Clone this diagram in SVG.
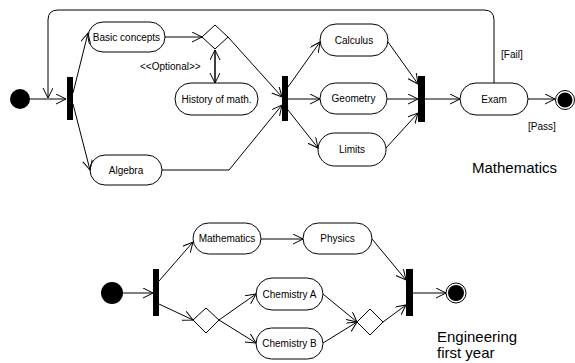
<svg xmlns="http://www.w3.org/2000/svg" width="575" height="363" viewBox="0 0 575 363">
  <defs>
    <style>
      .act { fill: #fff; stroke: #000; stroke-width: 1; }
      .bar { fill: #000; stroke: none; }
      .dec { fill: #fff; stroke: #000; stroke-width: 1; }
      .lbl { font-family: "Liberation Sans", Arial, sans-serif; font-size: 10px; fill: #000; text-anchor: middle; }
      .note { font-family: "Liberation Sans", Arial, sans-serif; font-size: 15px; fill: #000; }
      .guard { font-family: "Liberation Sans", Arial, sans-serif; font-size: 10px; fill: #000; }
      .flow { fill: none; stroke: #000; stroke-width: 1; marker-end: url(#arr); }
      .plain { fill: none; stroke: #000; stroke-width: 1; }
    </style>
    <marker id="arr" markerUnits="userSpaceOnUse" markerWidth="12" markerHeight="12" refX="10" refY="5" orient="auto">
      <path d="M0,0 L10,5 L0,10" fill="none" stroke="#000" stroke-width="1"/>
    </marker>
    <marker id="arrStart" markerUnits="userSpaceOnUse" markerWidth="12" markerHeight="12" refX="10" refY="5" orient="auto-start-reverse">
      <path d="M0,0 L10,5 L0,10" fill="none" stroke="#000" stroke-width="1"/>
    </marker>
  </defs>

  <!-- Mathematics activity -->
  <g id="m-start"><circle cx="20" cy="99" r="10" fill="#000"/></g>
  <g id="m-fork1"><rect class="bar" x="67" y="77" width="6" height="43"/></g>
  <g id="m-basic"><rect class="act" x="88" y="22" width="77" height="30" rx="15"/><text class="lbl" x="126.5" y="40.5">Basic concepts</text></g>
  <g id="m-algebra"><rect class="act" x="90" y="155" width="72" height="30" rx="15"/><text class="lbl" x="126" y="173.5">Algebra</text></g>
  <g id="m-decision"><polygon class="dec" points="202,37 215,25 228,37 215,49"/></g>
  <g id="m-history"><rect class="act" x="175" y="83" width="83" height="32" rx="16"/><text class="lbl" x="216.5" y="102.5">History of math.</text></g>
  <g id="m-fork2"><rect class="bar" x="282" y="76" width="6" height="45"/></g>
  <g id="m-calculus"><rect class="act" x="320" y="24" width="68" height="32" rx="16"/><text class="lbl" x="354" y="43.5">Calculus</text></g>
  <g id="m-geometry"><rect class="act" x="320" y="83" width="67" height="31" rx="15.5"/><text class="lbl" x="353.5" y="102">Geometry</text></g>
  <g id="m-limits"><rect class="act" x="318" y="133" width="68" height="33" rx="16.5"/><text class="lbl" x="352" y="153">Limits</text></g>
  <g id="m-join"><rect class="bar" x="418" y="76" width="7" height="46"/></g>
  <g id="m-exam"><rect class="act" x="460" y="83" width="68" height="32" rx="16"/><text class="lbl" x="494" y="102.5">Exam</text></g>
  <g id="m-end"><circle cx="565" cy="100" r="9.5" fill="#fff" stroke="#000" stroke-width="1"/><circle cx="565" cy="100" r="7.5" fill="#000"/></g>

  <!-- Engineering first year activity -->
  <g id="e-start"><circle cx="112" cy="293" r="11" fill="#000"/></g>
  <g id="e-fork"><rect class="bar" x="153" y="269" width="6" height="47"/></g>
  <g id="e-math"><rect class="act" x="193" y="223" width="68" height="31" rx="15.5"/><text class="lbl" x="227" y="242">Mathematics</text></g>
  <g id="e-physics"><rect class="act" x="303" y="223" width="69" height="31" rx="15.5"/><text class="lbl" x="337.5" y="242">Physics</text></g>
  <g id="e-dec1"><polygon class="dec" points="193,320 206,308 219,320 206,333"/></g>
  <g id="e-chemA"><rect class="act" x="256" y="278" width="67" height="32" rx="16"/><text class="lbl" x="289.5" y="297.5">Chemistry A</text></g>
  <g id="e-chemB"><rect class="act" x="256" y="328" width="67" height="31" rx="15.5"/><text class="lbl" x="289.5" y="347">Chemistry B</text></g>
  <g id="e-dec2"><polygon class="dec" points="357,322 370,309 383,322 370,335"/></g>
  <g id="e-join"><rect class="bar" x="406" y="269" width="7" height="47"/></g>
  <g id="e-end"><circle cx="456" cy="293" r="10" fill="#fff" stroke="#000" stroke-width="1"/><circle cx="456" cy="293" r="8" fill="#000"/></g>

  <!-- Connectors -->
  <g id="connectors">
    <line class="flow" x1="30" y1="99" x2="66" y2="99"/>
    <path class="flow" d="M494,83 V20 Q494,10 484,10 H58 Q48,10 48,20 V98"/>
    <line class="flow" x1="73" y1="93" x2="88" y2="33"/>
    <line class="flow" x1="73" y1="104" x2="90" y2="170"/>
    <line class="flow" x1="165" y1="37" x2="202" y2="37"/>
    <line fill="none" stroke="#000" stroke-width="1.5" marker-end="url(#arr)" marker-start="url(#arrStart)" x1="215" y1="50" x2="215" y2="83"/>
    <line class="flow" x1="228" y1="37" x2="282" y2="97"/>
    <path class="flow" d="M162,170 H229 L282,105"/>
    <line class="flow" x1="288" y1="87" x2="320" y2="42" stroke-width="1.5"/>
    <line class="flow" x1="288" y1="99" x2="320" y2="99"/>
    <line class="flow" x1="288" y1="110" x2="318" y2="148"/>
    <line class="flow" x1="388" y1="42" x2="418" y2="84"/>
    <line class="flow" x1="387" y1="99" x2="418" y2="99"/>
    <line class="flow" x1="386" y1="148" x2="418" y2="113"/>
    <line class="flow" x1="425" y1="99" x2="460" y2="99"/>
    <line class="flow" x1="528" y1="99" x2="555" y2="99"/>

    <line class="flow" x1="123" y1="293" x2="153" y2="293"/>
    <line class="flow" x1="159" y1="281" x2="193" y2="242"/>
    <line class="flow" x1="261" y1="239" x2="303" y2="239"/>
    <line class="flow" x1="159" y1="304" x2="193" y2="320"/>
    <line class="flow" x1="219" y1="320" x2="256" y2="294"/>
    <line class="flow" x1="219" y1="320" x2="256" y2="343"/>
    <line class="flow" x1="323" y1="294" x2="357" y2="322"/>
    <line class="flow" x1="323" y1="343" x2="357" y2="322"/>
    <line class="flow" x1="372" y1="239" x2="406" y2="280"/>
    <line class="flow" x1="383" y1="322" x2="406" y2="305"/>
    <line class="flow" x1="413" y1="293" x2="446" y2="293"/>
  </g>

  <!-- Labels -->
  <text class="guard" x="140" y="70">&lt;&lt;Optional&gt;&gt;</text>
  <text class="guard" x="501" y="58">[Fail]</text>
  <text class="guard" x="528" y="130">[Pass]</text>
  <text class="note" x="472" y="173">Mathematics</text>
  <text class="note" x="437" y="342">Engineering</text>
  <text class="note" x="437" y="358">first year</text>
</svg>
